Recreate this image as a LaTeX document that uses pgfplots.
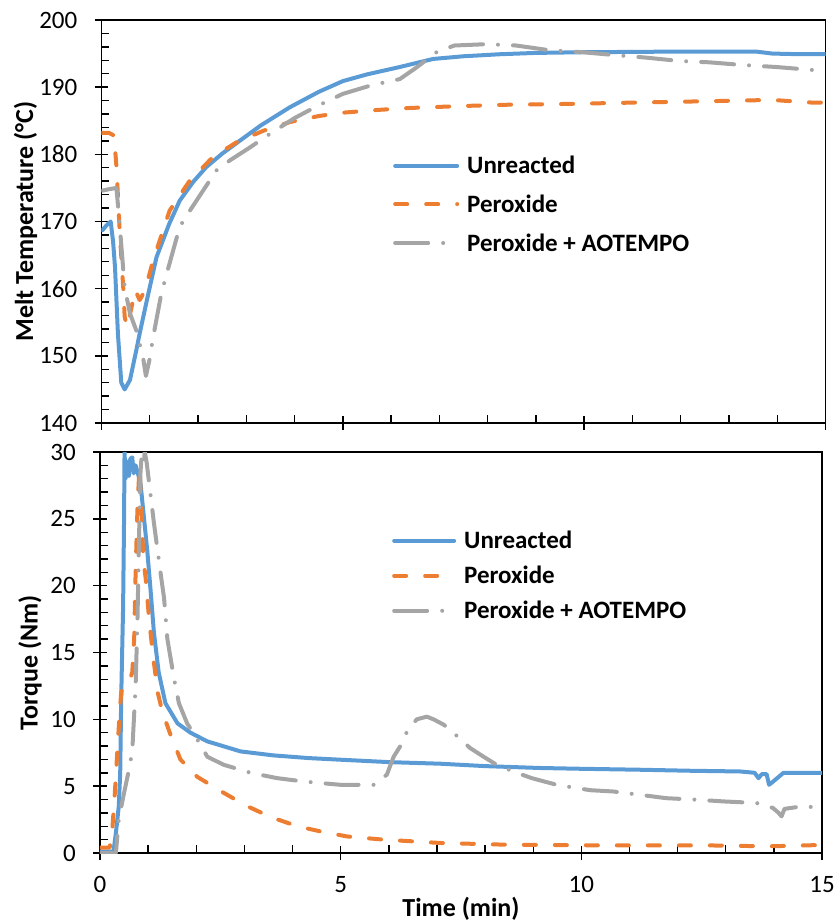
\documentclass[border=0pt]{standalone}
\usepackage{fontspec}
\setmainfont{Carlito}
\usepackage{pgfplots}
\pgfplotsset{compat=1.18}
\definecolor{cblue}{HTML}{5B9BD5}
\definecolor{corange}{HTML}{ED7D31}
\definecolor{cgray}{HTML}{A5A5A5}
\pgfplotsset{
  common/.style={
    scale only axis,
    xmin=0, xmax=15, xtick={0,5,10,15}, minor x tick num=4,
    minor y tick num=4,
    axis line style={line width=1.6pt, black},
    tick pos=left, tick align=center,
    major tick length=14pt, minor tick length=8pt,
    tick style={line width=1.4pt, black},
    every minor x tick/.append style={yshift=4pt},
    every minor y tick/.append style={xshift=4pt},
    /pgf/number format/assume math mode=true,
    tick label style={font=\fontsize{25}{30}\selectfont},
    yticklabel style={anchor=east, inner sep=0pt, xshift=-17pt},
    xticklabel style={anchor=north, inner sep=0pt, yshift=-16pt},
    legend cell align=left,
    legend style={draw=none, fill=none, inner sep=0pt,
      font=\bfseries\fontsize{25}{30}\selectfont, column sep=6pt},
    every axis plot/.append style={line width=4pt, line join=round, line cap=round},
  },
  sU/.style={cblue, solid},
  sP/.style={corange, dash pattern=on 12pt off 19pt},
  sA/.style={cgray, dash pattern=on 33pt off 15pt on 0pt off 15pt},
}
\begin{document}
\begin{tikzpicture}
\useasboundingbox (-100pt,-71pt) rectangle (735pt,853pt);
% ---------------- top: melt temperature
\begin{axis}[common,
  at={(1.5pt,430pt)}, anchor=south west,
  width=724pt, height=403pt,
  ymin=140, ymax=200, ytick={140,150,...,200},
  xticklabels={},
  ylabel={Melt Temperature (°C)},
  every axis y label/.style={at={(axis description cs:0,0.5)}, xshift=-76pt, rotate=90, anchor=center, font=\bfseries\fontsize{26}{30}\selectfont},
  legend style={at={(rel axis cs:0.4026,0.667)}, anchor=north west, row sep=15.5pt},
  legend image code/.code={\draw[#1] (0pt,0pt) -- (62pt,0pt);},
]
\addplot[sU] coordinates {
(0.02,168.7) (0.1,169.4) (0.19,170.0) (0.24,167.0) (0.28,163.2) (0.34,153.3) (0.41,146.0)
(0.48,145.0) (0.59,146.4) (0.72,150.8) (0.79,153.3) (0.95,158.6) (1.14,164.7) (1.4,169.6)
(1.62,173.1) (1.9,175.9) (2.17,178.1) (2.5,180.1) (2.86,182.0) (3.3,184.3) (3.9,187.0)
(4.5,189.3) (5.0,190.9) (5.5,191.9) (6.18,193.0) (6.87,194.2) (7.5,194.6) (8.25,194.9)
(9.0,195.1) (9.97,195.2) (11.0,195.25) (12.0,195.3) (13.0,195.3) (13.56,195.3) (13.9,195.0)
(14.5,194.9) (15.0,194.9)
};
\addlegendentry{Unreacted}
\addplot[sP] coordinates {
(0.0,183.2) (0.15,183.2) (0.26,182.8) (0.31,178.1) (0.38,168.2) (0.45,160.2) (0.48,155.8)
(0.53,154.3) (0.6,156.5) (0.7,159.8) (0.79,158.3) (0.9,159.7) (1.07,164.2) (1.41,171.6)
(1.83,176.1) (2.31,179.6) (2.8,181.8) (3.35,183.5) (3.9,184.8) (4.5,185.7) (5.0,186.2)
(5.7,186.6) (6.38,186.9) (7.5,187.2) (8.5,187.4) (9.63,187.5) (11.0,187.7) (12.5,187.9)
(13.9,188.1) (14.3,187.9) (14.73,187.7) (15.0,187.7)
};
\addlegendentry{Peroxide}
\addplot[sA] coordinates {
(0.02,174.6) (0.15,174.8) (0.31,175.0) (0.38,169.2) (0.48,160.2) (0.59,156.3) (0.72,153.8)
(0.86,149.8) (0.92,147.0) (1.0,149.6) (1.06,152.4) (1.24,159.3) (1.35,162.2) (1.62,169.2)
(1.83,171.6) (2.38,177.6) (2.66,179.1) (3.07,181.0) (3.48,183.0) (4.0,185.4) (4.5,187.3)
(5.0,189.0) (5.6,190.3) (6.18,191.2) (6.52,192.9) (6.94,195.2) (7.31,196.2) (7.97,196.4)
(8.59,196.2) (9.28,195.5) (9.97,195.2) (10.59,194.8) (11.28,194.4) (11.97,193.9)
(12.59,193.7) (13.28,193.3) (13.98,193.0) (15.0,192.4)
};
\addlegendentry{Peroxide + AOTEMPO}
\end{axis}
% ---------------- bottom: torque
\begin{axis}[common,
  at={(0pt,0pt)}, anchor=south west,
  width=722pt, height=401pt,
  ymin=0, ymax=30, ytick={0,5,...,30},
  xlabel={Time (min)}, ylabel={Torque (Nm)},
  every axis y label/.style={at={(axis description cs:0,0.474)}, xshift=-70pt, rotate=90, anchor=center, font=\bfseries\fontsize{26}{30}\selectfont},
  every axis x label/.style={at={(axis description cs:0.5,0)}, anchor=center, yshift=-56pt, font=\bfseries\fontsize{26}{30}\selectfont},
  legend style={at={(rel axis cs:0.4044,0.808)}, anchor=north west, row sep=12pt},
  legend image code/.code={\draw[#1] (0pt,0pt) -- (60pt,0pt);},
  restrict y to domain=-1:30.6,
  clip=true,
]
\addplot[sU] coordinates {
(0.0,0.1) (0.28,0.1) (0.33,1.5) (0.39,3.5) (0.42,6.0) (0.44,11.5) (0.46,15.0) (0.48,18.4)
(0.5,25.0) (0.51,30.0) (0.53,28.0) (0.56,29.3) (0.6,28.2) (0.63,29.5) (0.67,29.6) (0.7,28.4)
(0.74,29.0) (0.78,28.5) (0.84,27.7) (0.91,25.2) (0.98,22.7) (1.05,19.7) (1.12,16.5)
(1.22,13.5) (1.36,11.2) (1.61,9.7) (1.88,9.0) (2.23,8.35) (2.92,7.6) (3.61,7.3) (4.34,7.1)
(4.99,6.98) (6.0,6.8) (7.07,6.68) (8.0,6.5) (9.14,6.36) (10.0,6.3) (11.2,6.23) (12.3,6.15)
(13.3,6.1) (13.6,6.0) (13.68,5.6) (13.75,5.9) (13.85,5.9) (13.9,5.1) (13.97,5.3) (14.2,6.0)
(15.0,6.0)
};
\addlegendentry{Unreacted}
\addplot[sP] coordinates {
(0.0,0.4) (0.2,0.4) (0.25,1.5) (0.3,4.0) (0.35,7.0) (0.4,10.0) (0.44,12.0) (0.5,12.6)
(0.6,12.8) (0.67,13.5) (0.71,16.0) (0.74,21.0) (0.78,26.0) (0.82,28.8) (0.86,26.0)
(0.9,22.0) (0.95,20.5) (1.02,17.5) (1.1,14.8) (1.2,12.0) (1.3,10.5) (1.47,8.8) (1.67,7.0)
(2.02,5.7) (2.57,4.5) (3.06,3.5) (3.54,2.7) (4.1,2.0) (4.6,1.6) (5.13,1.24) (5.89,1.0)
(7.07,0.75) (8.45,0.62) (10.5,0.57) (12.6,0.57) (13.9,0.5) (15.0,0.6)
};
\addlegendentry{Peroxide}
\addplot[sA] coordinates {
(0.0,0.0) (0.33,0.0) (0.39,2.5) (0.5,4.5) (0.6,6.2) (0.67,7.6) (0.74,12.5) (0.78,17.7)
(0.81,23.4) (0.84,28.4) (0.87,30.0) (0.9,29.0) (0.93,30.0) (0.97,29.2) (1.02,27.7)
(1.12,24.7) (1.26,20.9) (1.33,19.1) (1.4,16.0) (1.54,13.0) (1.64,11.2) (1.81,9.7)
(2.02,8.5) (2.23,7.2) (2.57,6.6) (3.13,6.0) (3.68,5.6) (4.23,5.35) (5.0,5.1) (5.69,5.1)
(5.96,5.86) (6.1,7.2) (6.24,8.0) (6.38,9.1) (6.58,10.0) (6.79,10.2) (6.93,10.0) (7.14,9.6)
(7.34,9.0) (7.69,7.85) (7.97,7.2) (8.24,6.6) (8.66,6.0) (8.97,5.6) (9.49,5.1) (10.18,4.7)
(10.67,4.6) (11.2,4.36) (11.77,4.1) (12.39,3.99) (12.95,3.86) (13.64,3.74) (13.98,3.37)
(14.1,3.0) (14.16,2.74) (14.22,3.3) (14.6,3.5) (15.0,3.37)
};
\addlegendentry{Peroxide + AOTEMPO}
\end{axis}
\end{tikzpicture}
\end{document}
